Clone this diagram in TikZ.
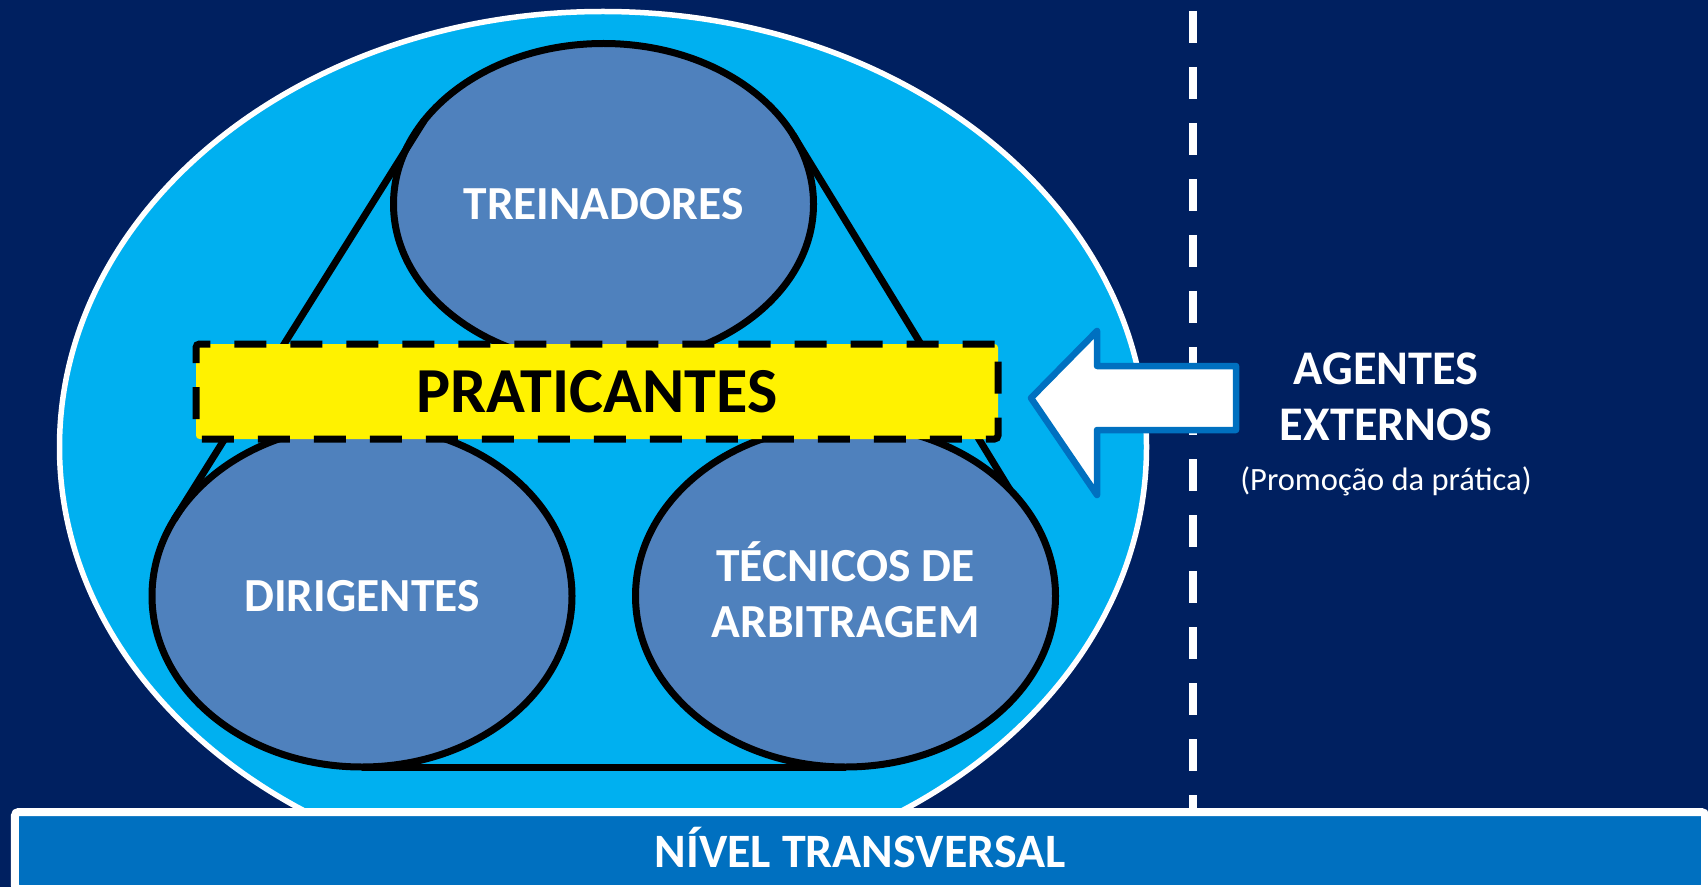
\documentclass[tikz,border=0pt]{standalone}
\usepackage{fontspec}
\setmainfont{Carlito}
\usetikzlibrary{shapes.geometric,positioning}

\definecolor{navybg}{HTML}{002060}
\definecolor{skyfill}{HTML}{00B0F0}
\definecolor{steelfill}{HTML}{4F81BD}
\definecolor{bandblue}{HTML}{0070C0}

\begin{document}
\begin{tikzpicture}[
        group/.style={ellipse, draw=black, fill=steelfill, line width=0.14cm, outer sep=0pt,
            minimum width=8.4cm, minimum height=6.84cm, text=white, align=center,
            font=\fontsize{27}{32}\selectfont\bfseries},
        edgeline/.style={line width=0.14cm}
    ]
        \useasboundingbox (0,0) rectangle (34.16,17.74);
        \fill[navybg] (0,0) rectangle (34.16,17.74);
        % big circle with the three groups
        \node[ellipse, draw=white, fill=skyfill, line width=0.11cm, minimum width=21.74cm, minimum height=17.42cm] (outer) at (12.06,8.80) {};
        \node[group, minimum height=6.42cm] (tre) at (12.07,13.66) {TREINADORES};
        \node[group] (dir) at (7.24,5.82) {DIRIGENTES};
        \node[group, text depth=7pt] (tec) at (16.91,5.82) {TÉCNICOS DE\\ARBITRAGEM};
        \draw[edgeline] (tre.155) -- (dir.158);
        \draw[edgeline] (tre.20) -- (tec.33);
        \draw[edgeline] (dir.south) -- (tec.south);
        \node[draw=black, fill=yellow, line width=0.14cm, dash pattern=on 0.64cm off 0.48cm, rounded corners=2pt,
            minimum width=16.04cm, minimum height=1.9cm, font=\fontsize{36.5}{40}\selectfont\bfseries] (prat) at (11.94,9.91) {PRATICANTES};
        % dashed border and outside agents
        \draw[white, line width=0.16cm, dash pattern=on 0.64cm off 0.48cm] (23.86,17.52) -- (23.86,1.0);
        \draw[bandblue, fill=white, line width=0.13cm, line join=round] (20.62,9.78) -- (21.94,11.12) -- (21.94,10.42) -- (24.72,10.42)
            -- (24.72,9.14) -- (21.94,9.14) -- (21.94,7.84) -- cycle;
        \node[text=white, align=center, font=\fontsize{27.5}{32}\selectfont\bfseries] (agentes) at (27.72,9.81) {AGENTES\\EXTERNOS};
        \node[below=0.27cm of agentes, text=white, font=\fontsize{18.5}{22}\selectfont] (promo) {(Promoção da prática)};
        \node[draw=white, fill=bandblue, line width=0.16cm, rounded corners=2pt, minimum width=33.8cm, minimum height=1.54cm,
            text depth=4pt, text=white, font=\fontsize{27.3}{32}\selectfont\bfseries] (band) at (17.20,0.73) {NÍVEL TRANSVERSAL};
\end{tikzpicture}
\end{document}
